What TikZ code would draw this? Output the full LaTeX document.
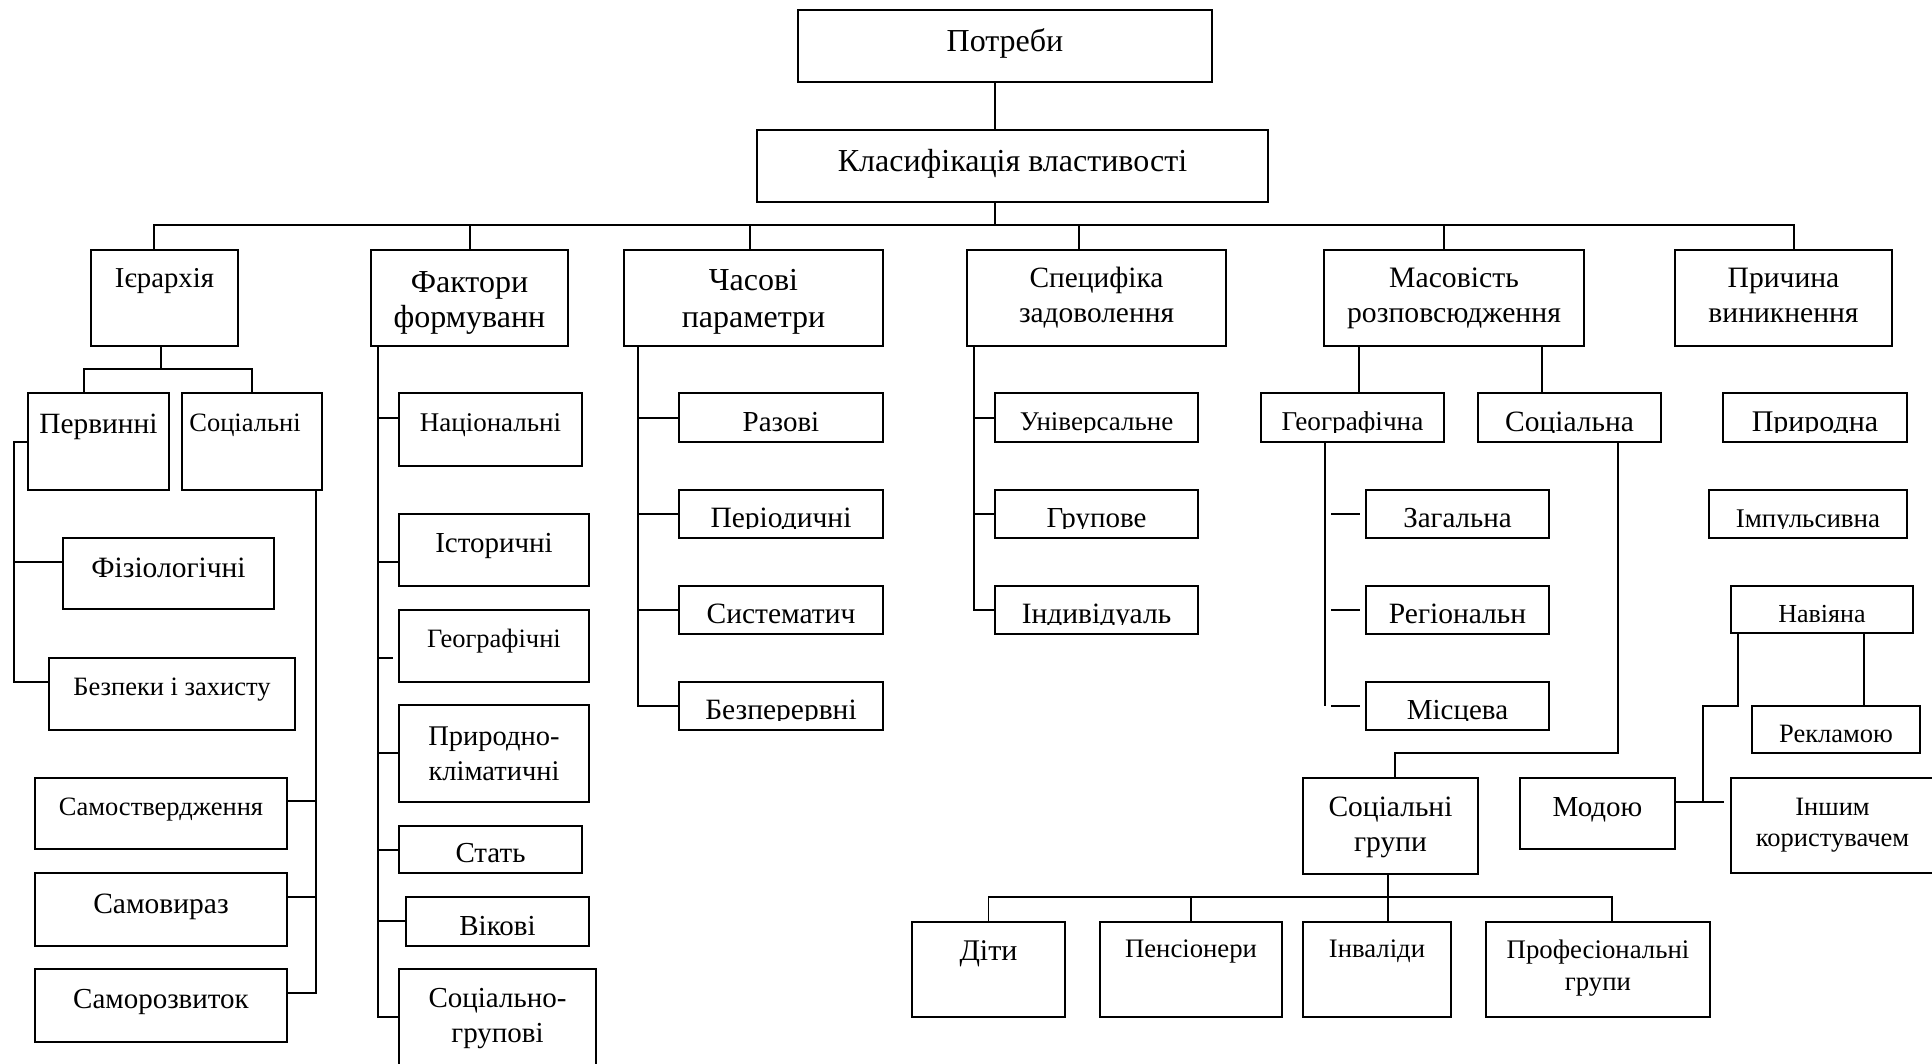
\documentclass[tikz,border=0pt]{standalone}
\usepackage{fontspec}
\setmainfont{Liberation Serif}
\tikzset{
  box/.style={draw, line width=1.7pt, inner sep=0pt, outer sep=0pt},
  lbl/.style={inner sep=0pt, outer sep=0pt, align=center, anchor=base},
  conn/.style={line width=1.5pt}
}
% font size with baseline skip for two-line labels
\newcommand\fsz[2][35]{\fontsize{#2}{#1}\selectfont}
% box: [x shift of text], name, x1, y1, x2, y2, baseline of last text line, font, text
\newcommand\bx[9][0]{%
  \node[box, minimum width={#5-#3}, minimum height={#6-#4}, anchor=north west] (#2) at (#3,#4) {};
  \node[lbl, font={#8}] (#2-t) at ({(#3+#5)/2+#1},#7) {#9};}
% thin box whose label is cut just under its baseline
\newcommand\bxcut[8]{%
  \node[box, minimum width={#4-#2}, minimum height={#5-#3}, anchor=north west] (#1) at (#2,#3) {};
  \begin{scope}
    \clip (#2,#3) rectangle (#4,{#5-10});
    \node[lbl, font={#7}] (#1-t) at ({(#2+#4)/2},#6) {#8};
  \end{scope}}
\begin{document}
\begin{tikzpicture}[x=1pt,y=-1pt]
\fill[white] (0,0) rectangle (1932,1064);
\useasboundingbox (0,0) rectangle (1932,1064);
\clip (0,0) rectangle (1932,1064);

% top
\bx{potr}{798}{10}{1212}{82}{52}{\fsz{32}}{Потреби}
\bx{klas}{757}{130}{1268}{202}{172}{\fsz{32}}{Класифікація властивості}

% second level
\bx{ier}{91}{250}{238}{346}{288}{\fsz{28.8}}{Ієрархія}
\bx{fakt}{371}{250}{568}{346}{327}{\fsz[35]{32}}{Фактори\\формуванн}
\bx{chas}{624}{250}{883}{346}{327}{\fsz[36]{32}}{Часові\\параметри}
\bx{spec}{967}{250}{1226}{346}{323}{\fsz[35]{29.4}}{Специфіка\\задоволення}
\bx{mas}{1324}{250}{1584}{346}{323}{\fsz[35]{29.7}}{Масовість\\розповсюдження}
\bx{prich}{1675}{250}{1892}{346}{323}{\fsz[35]{29.6}}{Причина\\виникнення}

% hierarchy
\bx{perv}{28}{393}{169}{490}{433}{\fsz{29.4}}{Первинні}
\bx[-7]{socA}{182}{393}{322}{490}{431}{\fsz{26.5}}{Соціальні}
\bx{fiz}{63}{538}{274}{609}{577}{\fsz{29.5}}{Фізіологічні}
\bx{bez}{49}{658}{295}{730}{695}{\fsz{26.5}}{Безпеки і захисту}
\bx{samst}{35}{778}{287}{849}{815}{\fsz{26.5}}{Самоствердження}
\bx{samvy}{35}{873}{287}{946}{913}{\fsz{29.5}}{Самовираз}
\bx{samro}{35}{969}{287}{1042}{1008}{\fsz{29}}{Саморозвиток}

% factors
\bx{nac}{399}{393}{582}{466}{431}{\fsz{27}}{Національні}
\bx{ist}{399}{514}{589}{586}{552}{\fsz{29}}{Історичні}
\bx{geoA}{399}{610}{589}{682}{647}{\fsz{26.5}}{Географічні}
\bx{prir}{399}{705}{589}{802}{780}{\fsz[35]{28.5}}{Природно-\\кліматичні}
\bxcut{stat}{399}{826}{582}{873}{862}{\fsz{29}}{Стать}
\bxcut{vik}{406}{897}{589}{946}{935}{\fsz{29}}{Вікові}
\bx{socgr}{399}{969}{596}{1100}{1042}{\fsz[35]{29}}{Соціально-\\групові}

% time
\bxcut{raz}{679}{393}{883}{442}{431}{\fsz{29}}{Разові}
\bxcut{per}{679}{490}{883}{538}{527}{\fsz{29.5}}{Періодичні}
\bxcut{sys}{679}{586}{883}{634}{623}{\fsz{29.5}}{Систематич}
\bxcut{bzp}{679}{682}{883}{730}{719}{\fsz{29.5}}{Безперервні}

% satisfaction
\bxcut{univ}{995}{393}{1198}{442}{430}{\fsz{27}}{Універсальне}
\bxcut{grup}{995}{490}{1198}{538}{527}{\fsz{29}}{Групове}
\bxcut{indiv}{995}{586}{1198}{634}{623}{\fsz{29.5}}{Індивідуаль}

% spread
\bxcut{geoB}{1261}{393}{1444}{442}{430}{\fsz{27.2}}{Географічна}
\bxcut{socB}{1478}{393}{1661}{442}{431}{\fsz{29.5}}{Соціальна}
\bxcut{zag}{1366}{490}{1549}{538}{527}{\fsz{29}}{Загальна}
\bxcut{reg}{1366}{586}{1549}{634}{623}{\fsz{29.5}}{Регіональн}
\bxcut{misc}{1366}{682}{1549}{730}{719}{\fsz{29}}{Місцева}
\bx{socgrp}{1303}{778}{1478}{874}{851}{\fsz[35]{29.5}}{Соціальні\\групи}
\bx{dity}{912}{922}{1065}{1017}{960}{\fsz{30}}{Діти}
\bx{pens}{1100}{922}{1282}{1017}{957}{\fsz{26.7}}{Пенсіонери}
\bx{inv}{1303}{922}{1451}{1017}{957}{\fsz{26.7}}{Інваліди}
\bx{prof}{1486}{922}{1710}{1017}{990}{\fsz[32]{26.8}}{Професіональні\\групи}

% cause
\bxcut{prirB}{1723}{393}{1907}{442}{431}{\fsz{30}}{Природна}
\bxcut{imp}{1709}{490}{1907}{538}{527}{\fsz{27}}{Імпульсивна}
\bxcut{nav}{1731}{586}{1913}{633}{622}{\fsz{26}}{Навіяна}
\bxcut{rekl}{1752}{706}{1920}{753}{742}{\fsz{26.5}}{Рекламою}
\bx{mod}{1520}{778}{1675}{849}{816}{\fsz{29}}{Модою}
\bx{insh}{1731}{778}{1934}{873}{846}{\fsz[31]{26.5}}{Іншим\\користувачем}

% ---- connectors ----
\coordinate (sp) at (995,225);
\draw[conn] (potr.south -| sp) -- (klas.north -| sp);
\draw[conn] (klas.south -| sp) -- (sp);
\draw[conn] (ier.north -| 154,0) -- (154,225) -- (1794,225) -- (prich.north -| 1794,0);
\foreach \n/\x in {fakt/470, chas/750, spec/1079, mas/1444}
  \draw[conn] (\n.north -| \x,0) -- (\x,225);

% hierarchy branches
\draw[conn] (ier.south -| 161,0) -- (161,369);
\draw[conn] (perv.north -| 84,0) -- (84,369) -- (252,369) -- (socA.north -| 252,0);
\draw[conn] (perv.west |- 0,442) -- (14,442) -- (14,682) -- (bez.west |- 0,682);
\draw[conn] (14,562) -- (fiz.west |- 0,562);
\draw[conn] (socA.south -| 316,0) -- (316,993) -- (samro.east |- 0,993);
\draw[conn] (316,801) -- (samst.east |- 0,801);
\draw[conn] (316,897) -- (samvy.east |- 0,897);

% factor branches
\draw[conn] (fakt.south -| 378,0) -- (378,1017) -- (socgr.west |- 0,1017);
\foreach \n/\y in {nac/418, ist/562, prir/753, stat/850, vik/921}
  \draw[conn] (378,\y) -- (\n.west |- 0,\y);
\draw[conn] (378,658) -- ([xshift=-6]geoA.west |- 0,658);

% time branches
\draw[conn] (chas.south -| 638,0) -- (638,706) -- (bzp.west |- 0,706);
\foreach \n/\y in {raz/418, per/514, sys/610}
  \draw[conn] (638,\y) -- (\n.west |- 0,\y);

% satisfaction branches
\draw[conn] (spec.south -| 974,0) -- (974,610) -- (indiv.west |- 0,610);
\foreach \n/\y in {univ/418, grup/514}
  \draw[conn] (974,\y) -- (\n.west |- 0,\y);

% spread branches
\draw[conn] (mas.south -| 1359,0) -- (geoB.north -| 1359,0);
\draw[conn] (mas.south -| 1542,0) -- (socB.north -| 1542,0);
\draw[conn] (geoB.south -| 1325,0) -- (1325,706);
\foreach \n in {zag, reg, misc}
  \draw[conn] ([xshift=-35]\n.west) -- ([xshift=-6]\n.west);
\draw[conn] (socB.south -| 1618,0) -- (1618,753) -- (1395,753) -- (socgrp.north -| 1395,0);
\draw[conn] (socgrp.south -| 1388,0) -- (inv.north -| 1388,0);
\draw[conn] (dity.north) -- (dity.north |- 0,897) -- (1612,897) -- (prof.north -| 1612,0);
\draw[conn] (pens.north) -- (pens.north |- 0,897);

% cause branches
\draw[conn] (nav.south -| 1738,0) -- (1738,706) -- (1703,706) -- (1703,802);
\draw[conn] (nav.south -| 1864,0) -- (rekl.north -| 1864,0);
\draw[conn] (mod.east |- 0,802) -- ([xshift=-7]insh.west |- 0,802);
\end{tikzpicture}
\end{document}
